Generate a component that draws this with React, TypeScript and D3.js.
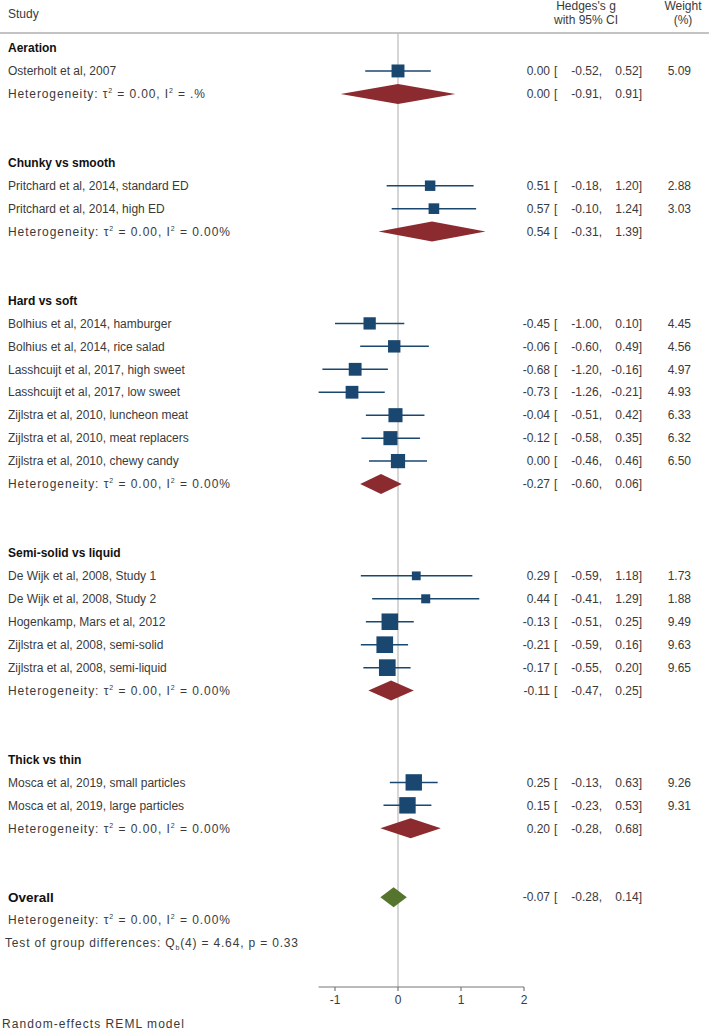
import React from "react";
import * as d3 from "d3";

const groupNames = ["Aeration", "Chunky vs smooth", "Hard vs soft", "Semi-solid vs liquid", "Thick vs thin"];
const groupI2 = [".%", "0.00%", "0.00%", "0.00%", "0.00%"];
const groupTau2 = ["0.00", "0.00", "0.00", "0.00", "0.00"];
const groupES = [0.0, 0.54, -0.27, -0.11, 0.2];
const groupLo = [-0.91, -0.31, -0.6, -0.47, -0.28];
const groupHi = [0.91, 1.39, 0.06, 0.25, 0.68];

const studyLabels = [
  "Osterholt et al, 2007",
  "Pritchard et al, 2014, standard ED",
  "Pritchard et al, 2014, high ED",
  "Bolhius et al, 2014, hamburger",
  "Bolhius et al, 2014, rice salad",
  "Lasshcuijt et al, 2017, high sweet",
  "Lasshcuijt et al, 2017, low sweet",
  "Zijlstra et al, 2010, luncheon meat",
  "Zijlstra et al, 2010, meat replacers",
  "Zijlstra et al, 2010, chewy candy",
  "De Wijk et al, 2008, Study 1",
  "De Wijk et al, 2008, Study 2",
  "Hogenkamp, Mars et al, 2012",
  "Zijlstra et al, 2008, semi-solid",
  "Zijlstra et al, 2008, semi-liquid",
  "Mosca et al, 2019, small particles",
  "Mosca et al, 2019, large particles",
];
const studyGroup = [0, 1, 1, 2, 2, 2, 2, 2, 2, 2, 3, 3, 3, 3, 3, 4, 4];
const studyES = [0.0, 0.51, 0.57, -0.45, -0.06, -0.68, -0.73, -0.04, -0.12, 0.0, 0.29, 0.44, -0.13, -0.21, -0.17, 0.25, 0.15];
const studyLo = [-0.52, -0.18, -0.1, -1.0, -0.6, -1.2, -1.26, -0.51, -0.58, -0.46, -0.59, -0.41, -0.51, -0.59, -0.55, -0.13, -0.23];
const studyHi = [0.52, 1.2, 1.24, 0.1, 0.49, -0.16, -0.21, 0.42, 0.35, 0.46, 1.18, 1.29, 0.25, 0.16, 0.2, 0.63, 0.53];
const studyWeight = [5.09, 2.88, 3.03, 4.45, 4.56, 4.97, 4.93, 6.33, 6.32, 6.5, 1.73, 1.88, 9.49, 9.63, 9.65, 9.26, 9.31];

const overallES = -0.07;
const overallLo = -0.28;
const overallHi = 0.14;
const overallTau2 = "0.00";
const overallI2 = "0.00%";
const testText = { q: "4.64", df: "4", p: "0.33" };

const axisTicks = [-1, 0, 1, 2];
const axisMin = -1.26;
const axisMax = 2;

const FONT = "'Liberation Sans', Arial, sans-serif";
const TXT = "#3a3a3a";
const NAVY = "#1a476f";
const MAROON = "#8c2b2f";
const GREEN = "#55752f";

const fmt = (v: number) => {
  const s = Math.abs(v).toFixed(2);
  return (v < 0 ? "-" : "") + s;
};

type Row =
  | { kind: "group"; g: number }
  | { kind: "study"; s: number }
  | { kind: "het"; g: number }
  | { kind: "blank" }
  | { kind: "overall" }
  | { kind: "ohet" }
  | { kind: "test" };

export default function App() {
  const W = 709;
  const H = 1032;
  const x = d3.scaleLinear().domain([-1, 2]).range([335, 524]);
  const rows: Row[] = [];
  groupNames.forEach((_, g) => {
    rows.push({ kind: "group", g });
    studyGroup.forEach((sg, s) => {
      if (sg === g) rows.push({ kind: "study", s });
    });
    rows.push({ kind: "het", g });
    rows.push({ kind: "blank" });
    rows.push({ kind: "blank" });
  });
  rows.push({ kind: "overall" });
  rows.push({ kind: "ohet" });
  rows.push({ kind: "test" });

  const y = d3.scaleLinear().domain([0, rows.length - 1]).range([48, 48 + 22.95 * (rows.length - 1)]);
  const axisY = 987;
  const fs = 12;
  const sizeScale = (w: number) => 3 + 4.4 * Math.sqrt(w);

  const estText = (es: number, lo: number, hi: number, yy: number, w?: number) => (
    <g fontSize={fs} fill={TXT}>
      <text x={550} y={yy} textAnchor="end" dy="0.35em">{fmt(es)}</text>
      <text x={554} y={yy} dy="0.35em">[</text>
      <text x={602} y={yy} textAnchor="end" dy="0.35em">{fmt(lo) + ","}</text>
      <text x={642} y={yy} textAnchor="end" dy="0.35em">{fmt(hi) + "]"}</text>
      {w !== undefined && (
        <text x={691} y={yy} textAnchor="end" dy="0.35em">{w.toFixed(2)}</text>
      )}
    </g>
  );

  const hetLabel = (tau: string, i2: string, yy: number, xx: number) => (
    <text
      x={xx}
      y={yy}
      dy="0.35em"
      fontSize={fs}
      fill={TXT}
      textLength={i2 === ".%" ? 197 : 222}
      lengthAdjust="spacing"
    >
      Heterogeneity: τ
      <tspan fontSize={7} dy="-5">2</tspan>
      <tspan dy="5">{` = ${tau}, I`}</tspan>
      <tspan fontSize={7} dy="-5">2</tspan>
      <tspan dy="5">{` = ${i2}`}</tspan>
    </text>
  );

  const diamond = (es: number, lo: number, hi: number, yy: number, color: string) => {
    const p = d3.path();
    p.moveTo(x(lo), yy);
    p.lineTo(x(es), yy - 10);
    p.lineTo(x(hi), yy);
    p.lineTo(x(es), yy + 10);
    p.closePath();
    return <path d={p.toString()} fill={color} />;
  };

  return (
    <svg width={W} height={H} style={{ position: "absolute", left: 0, top: 0, background: "#fff" }} fontFamily={FONT}>
      <rect width={W} height={H} fill="#fff" />
      {/* header */}
      <text x={8} y={18} fontSize={fs} fill={TXT}>Study</text>
      <text x={586} y={10} fontSize={fs} fill={TXT} textAnchor="middle">Hedges's g</text>
      <text x={586} y={24} fontSize={fs} fill={TXT} textAnchor="middle">with 95% CI</text>
      <text x={683} y={10} fontSize={fs} fill={TXT} textAnchor="middle">Weight</text>
      <text x={683} y={24} fontSize={fs} fill={TXT} textAnchor="middle">(%)</text>
      <line x1={0} x2={709} y1={33} y2={33} stroke="#888" strokeWidth={1} />
      {/* zero line */}
      <line x1={x(0)} x2={x(0)} y1={33} y2={axisY} stroke="#bbb" strokeWidth={1.2} />
      {rows.map((r, i) => {
        const yy = y(i);
        if (r.kind === "group") {
          return (
            <text key={i} x={8} y={yy} dy="0.35em" fontSize={fs} fontWeight="bold" fill="#111">
              {groupNames[r.g]}
            </text>
          );
        }
        if (r.kind === "study") {
          const s = r.s;
          const side = sizeScale(studyWeight[s]);
          return (
            <g key={i}>
              <text x={8} y={yy} dy="0.35em" fontSize={fs} fill={TXT}>{studyLabels[s]}</text>
              <line x1={x(studyLo[s])} x2={x(studyHi[s])} y1={yy} y2={yy} stroke={NAVY} strokeWidth={1.5} />
              <rect x={x(studyES[s]) - side / 2} y={yy - side / 2} width={side} height={side} fill={NAVY} />
              {estText(studyES[s], studyLo[s], studyHi[s], yy, studyWeight[s])}
            </g>
          );
        }
        if (r.kind === "het") {
          const g = r.g;
          return (
            <g key={i}>
              {hetLabel(groupTau2[g], groupI2[g], yy, 8)}
              {diamond(groupES[g], groupLo[g], groupHi[g], yy, MAROON)}
              {estText(groupES[g], groupLo[g], groupHi[g], yy)}
            </g>
          );
        }
        if (r.kind === "overall") {
          return (
            <g key={i}>
              <text x={8} y={yy} dy="0.35em" fontSize={13.5} fontWeight="bold" fill="#111">Overall</text>
              {diamond(overallES, overallLo, overallHi, yy, GREEN)}
              {estText(overallES, overallLo, overallHi, yy)}
            </g>
          );
        }
        if (r.kind === "ohet") {
          return <g key={i}>{hetLabel(overallTau2, overallI2, yy, 8)}</g>;
        }
        if (r.kind === "test") {
          return (
            <text key={i} x={5} y={yy} dy="0.35em" fontSize={fs} fill={TXT} textLength={293} lengthAdjust="spacing">
              Test of group differences: Q
              <tspan fontSize={7} dy="3">b</tspan>
              <tspan dy="-3">{`(${testText.df}) = ${testText.q}, p = ${testText.p}`}</tspan>
            </text>
          );
        }
        return null;
      })}
      {/* axis */}
      <line x1={x(axisMin)} x2={x(axisMax)} y1={axisY} y2={axisY} stroke="#777" strokeWidth={1.2} />
      {axisTicks.map((t) => (
        <g key={t}>
          <line x1={x(t)} x2={x(t)} y1={axisY} y2={axisY + 4} stroke="#777" strokeWidth={1.2} />
          <text x={x(t)} y={axisY + 17} textAnchor="middle" fontSize={fs} fill={TXT}>{t}</text>
        </g>
      ))}
      <text x={2} y={1028} fontSize={fs} fill={TXT} textLength={182} lengthAdjust="spacing">Random-effects REML model</text>
    </svg>
  );
}
